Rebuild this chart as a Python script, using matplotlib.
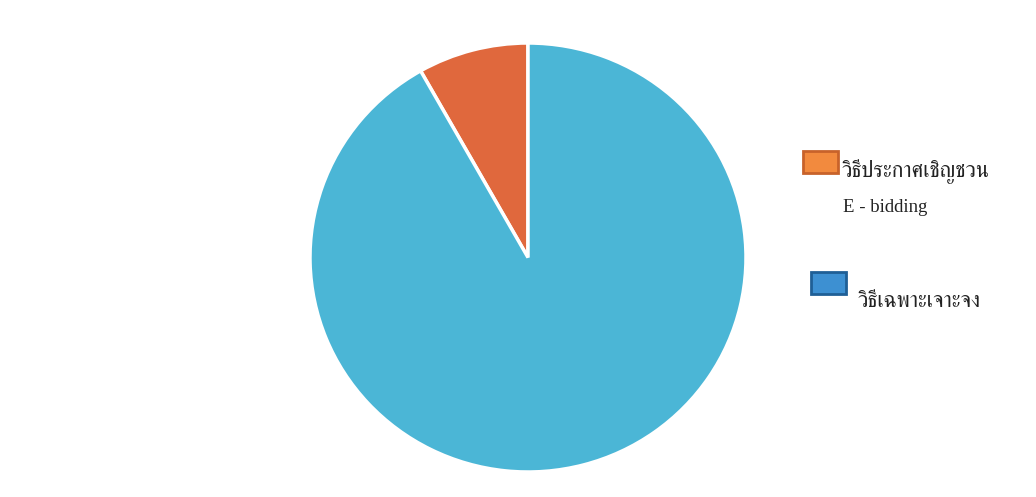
import matplotlib
matplotlib.use("Agg")
import matplotlib.pyplot as plt
from matplotlib import font_manager
from matplotlib.ft2font import FT2Font
from matplotlib.patches import Rectangle

# ข้อมูล (อ่านจากภาพ)
labels = ["วิธีประกาศเชิญชวน", "วิธีเฉพาะเจาะจง"]
sub_label = "E - bidding"
shares = [8.2, 91.8]
pie_colors = ["#E0683D", "#4BB6D6"]
legend_colors = ["#F28A3E", "#3D90D2"]
legend_edges = ["#C8622A", "#1F5F96"]


def find_thai_font():
    # หาฟอนต์ที่มีตัวอักษรไทย ถ้ามี
    serif_first = sorted(font_manager.fontManager.ttflist,
                         key=lambda f: 0 if "Serif" in f.name else 1)
    for f in serif_first:
        try:
            if 0x0E27 in FT2Font(f.fname).get_charmap():
                return f.name
        except Exception:
            pass
    return None


thai = find_thai_font()
thai_family = [thai, "Liberation Serif", "DejaVu Sans"] if thai else ["Liberation Serif", "DejaVu Sans"]

W, H = 1036, 497
fig = plt.figure(figsize=(W / 100, H / 100), dpi=100)
fig.patch.set_facecolor("white")

# วงกลมในภาพสแกนยืดเล็กน้อยตามแนวนอน
cx, cy, rx, ry = 528, 257.5, 218, 214.5
ax = fig.add_axes([(cx - rx) / W, (H - cy - ry) / H, 2 * rx / W, 2 * ry / H])
ax.pie(shares, colors=pie_colors, startangle=90, counterclock=True,
       wedgeprops=dict(edgecolor="white", linewidth=2.5))
ax.set_xlim(-1, 1)
ax.set_ylim(-1, 1)
ax.set_aspect("auto")
ax.axis("off")

# คำอธิบายสัญลักษณ์
patch_pos = [(803, 151), (811, 272)]
text_pos = [(842, 177), (858, 307)]
for i in range(len(labels)):
    px, py = patch_pos[i]
    fig.patches.append(Rectangle((px / W, 1 - (py + 22) / H), 35 / W, 22 / H,
                                 transform=fig.transFigure, facecolor=legend_colors[i],
                                 edgecolor=legend_edges[i], linewidth=2))
    tx, ty = text_pos[i]
    fig.text(tx / W, 1 - ty / H, labels[i], family=thai_family, fontsize=15.6,
             color="#222222", va="baseline", ha="left")

fig.text(843 / W, 1 - 212 / H, sub_label, family=["Liberation Serif"], fontsize=13.5,
         color="#222222", va="baseline", ha="left")

fig.savefig("out.png", dpi=100, facecolor="white")
